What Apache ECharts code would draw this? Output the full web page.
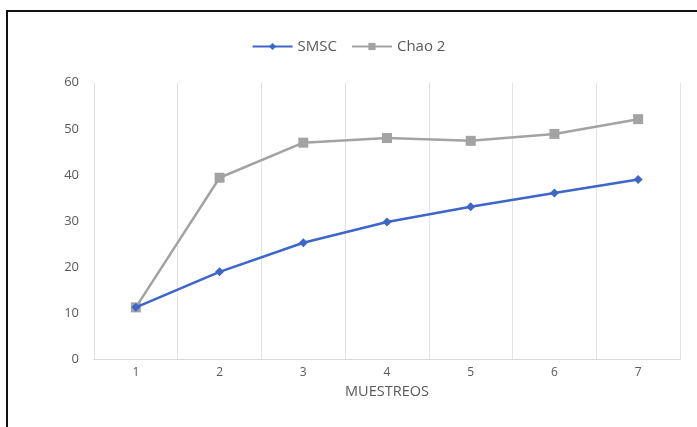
<!DOCTYPE html>
<html>
<head>
<meta charset="utf-8">
<script src="https://cdn.jsdelivr.net/npm/echarts@6/dist/echarts.min.js"></script>
<style>
  html, body { margin: 0; padding: 0; background: #fff; }
  #frame { position: absolute; left: 6px; top: 10px; width: 720px; height: 440px; border: 2px solid #111; box-sizing: border-box; }
  #chart { position: absolute; left: 0; top: 0; width: 697px; height: 427px; }
</style>
</head>
<body>
<div id="frame"></div>
<div id="chart"></div>
<script>
// Sampling rounds and species-richness estimates
const muestreos = ['1', '2', '3', '4', '5', '6', '7'];
const smsc = [11.3, 19.0, 25.3, 29.8, 33.1, 36.1, 39.0];
const chao2 = [11.3, 39.4, 47.0, 48.0, 47.4, 48.9, 52.1];
const yTicks = [0, 10, 20, 30, 40, 50, 60];

const textColor = '#595959';
const chart = echarts.init(document.getElementById('chart'), null, { renderer: 'canvas' });

chart.setOption({
  backgroundColor: 'transparent',
  animation: false,
  textStyle: { fontFamily: 'Open Sans' },
  legend: {
    top: 34,
    left: 'center',
    itemWidth: 40,
    itemHeight: 9,
    itemGap: 14,
    textStyle: { color: textColor, fontSize: 15, fontFamily: 'Open Sans' },
    data: ['SMSC', 'Chao 2']
  },
  grid: { left: 94, right: 17, top: 82.7, height: 276.8, containLabel: false },
  xAxis: {
    type: 'category',
    data: muestreos,
    boundaryGap: true,
    name: 'MUESTREOS',
    nameLocation: 'middle',
    nameGap: 25,
    nameTextStyle: { color: textColor, fontSize: 14.5, fontFamily: 'Open Sans' },
    axisLine: { show: true, lineStyle: { color: '#d9d9d9', width: 1 } },
    axisTick: { show: false },
    axisLabel: { color: textColor, fontSize: 12, margin: 7, fontFamily: 'Open Sans' },
    splitLine: { show: true, lineStyle: { color: '#e3e3e3', width: 1 } }
  },
  yAxis: {
    type: 'value',
    min: yTicks[0],
    max: yTicks[yTicks.length - 1],
    interval: 10,
    axisLine: { show: false },
    axisTick: { show: false },
    axisLabel: { color: textColor, fontSize: 13, margin: 15, fontFamily: 'Open Sans' },
    splitLine: { show: false }
  },
  series: [
    {
      name: 'SMSC',
      type: 'line',
      data: smsc,
      symbol: 'diamond',
      symbolSize: 9,
      z: 3,
      lineStyle: { color: '#3d66c8', width: 2.5 },
      itemStyle: { color: '#3d66c8' }
    },
    {
      name: 'Chao 2',
      type: 'line',
      data: chao2,
      symbol: 'rect',
      symbolSize: 10,
      z: 2,
      lineStyle: { color: '#a3a3a3', width: 2.5 },
      itemStyle: { color: '#a3a3a3' }
    }
  ]
});
</script>
</body>
</html>
